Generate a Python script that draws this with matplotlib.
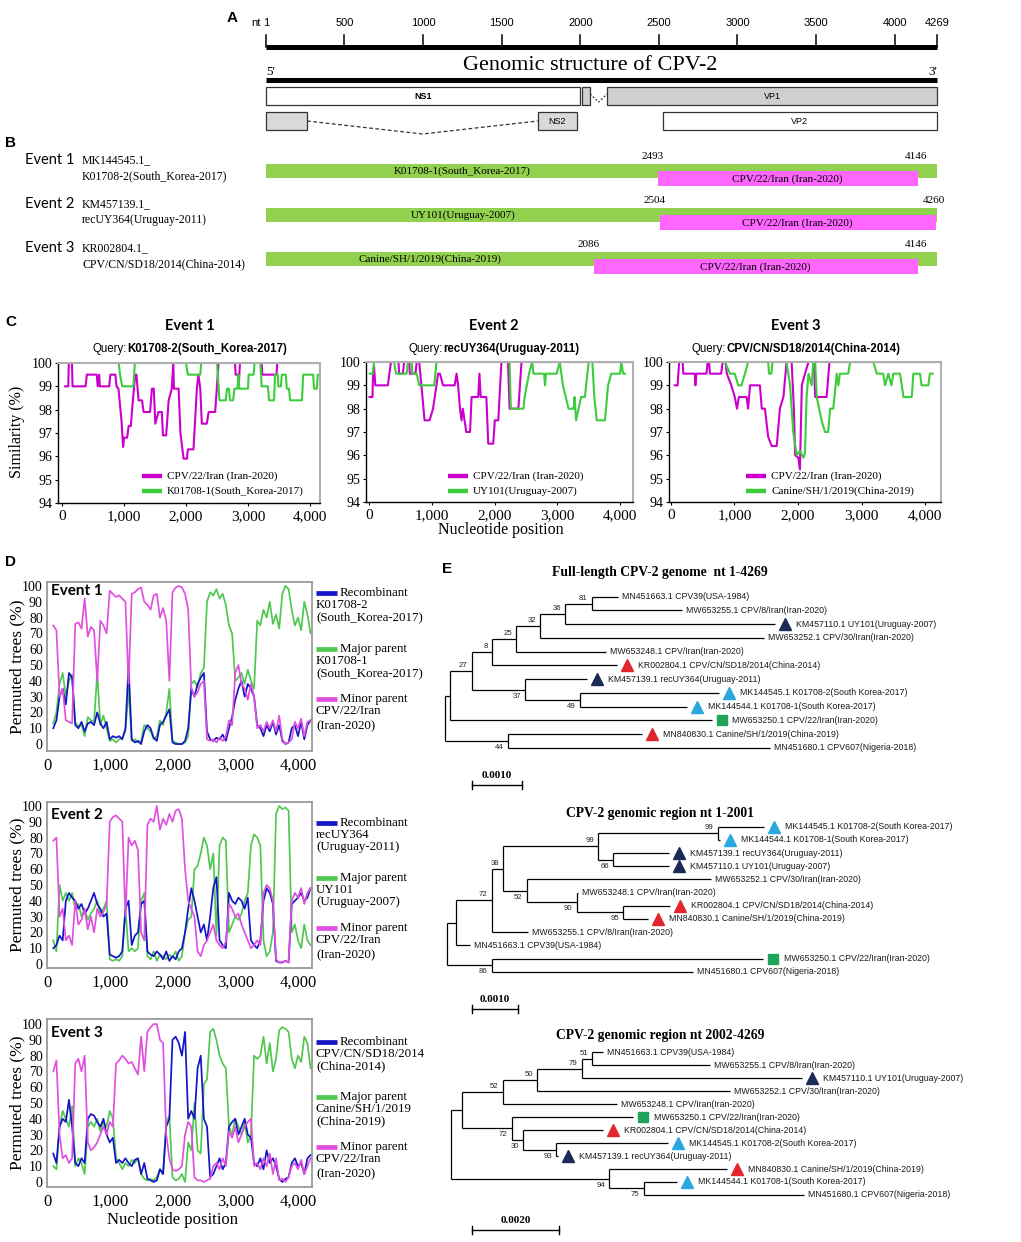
import numpy as np
import matplotlib
matplotlib.use('Agg')
import matplotlib.pyplot as plt
from matplotlib.patches import Rectangle
from matplotlib.lines import Line2D
from matplotlib.ticker import FuncFormatter
from matplotlib import transforms

# ------------------------------------------------------------------ DATA
GENOME_LEN = 4269
RULER_TICKS = [1, 500, 1000, 1500, 2000, 2500, 3000, 3500, 4000, 4269]
RULER_LABELS = ['1', '500', '1000', '1500', '2000', '2500', '3000', '3500', '4000', '4269']

ROW1_NAMES = ['NS1', '', 'VP1']
ROW1_START = [1, 2012, 2170]
ROW1_END = [2001, 2063, 4269]
ROW1_FILL = ['white', '#cfcfcf', '#cfcfcf']
ROW2_NAMES = ['', 'NS2', 'VP2']
ROW2_START = [1, 1730, 2525]
ROW2_END = [262, 1980, 4269]
ROW2_FILL = ['#d9d9d9', '#d9d9d9', 'white']

EVENTS = ['Event 1', 'Event 2', 'Event 3']
EVENT_ACC = ['MK144545.1_', 'KM457139.1_', 'KR002804.1_']
EVENT_REC = ['K01708-2(South_Korea-2017)', 'recUY364(Uruguay-2011)', 'CPV/CN/SD18/2014(China-2014)']
EVENT_MAJOR = ['K01708-1(South_Korea-2017)', 'UY101(Uruguay-2007)', 'Canine/SH/1/2019(China-2019)']
EVENT_MAJOR_D = ['K01708-1', 'UY101', 'Canine/SH/1/2019']
EVENT_MAJOR_D2 = ['(South_Korea-2017)', '(Uruguay-2007)', '(China-2019)']
EVENT_REC_D = ['K01708-2', 'recUY364', 'CPV/CN/SD18/2014']
EVENT_REC_D2 = ['(South_Korea-2017)', '(Uruguay-2011)', '(China-2014)']
MINOR_NAME = 'CPV/22/Iran (Iran-2020)'
BP_START = [2493, 2504, 2086]
BP_END = [4146, 4260, 4146]

# Panel C similarity (position, %)
C1_MINOR = [(50, 99.0), (100, 99.0), (110, 100), (160, 100), (170, 99.0), (380, 99.0), (400, 99.5), (560, 99.5),
            (575, 99.0), (600, 99.5), (610, 99.0), (760, 99.0), (780, 99.5), (860, 99.5), (880, 99.0), (910, 98.9),
            (960, 97.5), (985, 96.4), (1000, 96.8), (1050, 96.8), (1075, 97.3), (1110, 97.3), (1130, 98.0),
            (1180, 99.5), (1200, 99.5), (1235, 98.4), (1290, 98.4), (1316, 97.9), (1420, 97.9), (1450, 98.9),
            (1480, 98.9), (1505, 97.4), (1555, 97.9), (1610, 97.9), (1628, 96.9), (1680, 96.9), (1720, 98.4),
            (1770, 98.9), (1795, 100), (1805, 98.9), (1880, 98.9), (1910, 97.0), (1960, 95.9), (2015, 95.9),
            (2030, 96.3), (2120, 96.3), (2175, 98.9), (2200, 99.5), (2230, 98.9), (2255, 97.4), (2335, 97.4),
            (2365, 97.9), (2470, 97.9), (2525, 100), (2790, 100), (2800, 99.5), (2840, 99.5), (2850, 99.0),
            (2870, 100), (3220, 100), (3230, 99.5), (3460, 99.5), (3470, 100), (4150, 100)]
C1_MAJOR = [(900, 100), (915, 100), (935, 99.5), (970, 99.0), (1150, 99.0), (1175, 100), (2000, 100), (2030, 99.5),
            (2230, 99.5), (2245, 100), (2500, 100), (2540, 98.4), (2640, 98.4), (2660, 98.9), (2690, 98.9),
            (2710, 98.4), (2760, 98.4), (2780, 98.9), (2830, 98.9), (2845, 99.5), (2860, 98.9), (3000, 98.9),
            (3010, 99.5), (3090, 99.5), (3105, 100), (3200, 100), (3220, 99.0), (3320, 99.0), (3340, 98.4),
            (3420, 98.4), (3435, 99.5), (3480, 99.5), (3490, 99.0), (3530, 99.0), (3545, 99.5), (3610, 99.5),
            (3625, 98.9), (3660, 98.9), (3680, 98.4), (3870, 98.4), (3890, 99.5), (4050, 99.5), (4065, 98.9),
            (4110, 98.9), (4125, 99.5), (4150, 99.5)]
C2_MINOR = [(10, 98.5), (55, 98.5), (65, 99.5), (80, 99.8), (100, 99.0), (300, 99.0), (320, 99.4), (350, 100),
            (470, 100), (480, 99.5), (540, 99.5), (560, 100), (640, 100), (650, 99.5), (740, 99.5), (760, 100),
            (800, 100), (835, 99.0), (885, 97.5), (965, 97.5), (1020, 98.0), (1075, 99.0), (1100, 99.5),
            (1130, 99.5), (1180, 99.0), (1365, 99.0), (1395, 99.5), (1420, 99.0), (1450, 98.0), (1475, 97.5),
            (1495, 98.0), (1550, 97.0), (1610, 97.0), (1635, 98.5), (1740, 98.5), (1760, 99.5), (1780, 98.5),
            (1870, 98.5), (1900, 96.5), (1980, 96.5), (2005, 97.5), (2060, 97.5), (2110, 100), (2215, 100),
            (2240, 98.0), (2380, 98.0), (2430, 100), (4200, 100)]
C2_MAJOR = [(10, 99.5), (60, 99.5), (80, 100), (400, 100), (430, 99.5), (600, 99.5), (620, 100), (680, 100),
            (690, 99.5), (760, 99.5), (800, 99.0), (1040, 99.0), (1075, 100), (2240, 100), (2260, 98.0),
            (2460, 98.0), (2480, 98.5), (2550, 99.5), (2600, 100), (2620, 99.5), (2790, 99.5), (2805, 99.0),
            (2820, 99.5), (2990, 99.5), (3040, 100), (3090, 99.0), (3180, 98.0), (3260, 98.0), (3275, 98.5),
            (3300, 97.5), (3340, 98.0), (3380, 98.5), (3440, 98.5), (3500, 100), (3560, 100), (3590, 98.5),
            (3630, 97.5), (3760, 97.5), (3810, 99.0), (3860, 99.5), (4000, 99.5), (4020, 100), (4050, 99.5),
            (4080, 99.5)]
C3_MINOR = [(60, 99.0), (105, 99.0), (130, 100), (185, 100), (195, 99.5), (375, 99.5), (385, 99.0), (400, 99.5),
            (560, 99.5), (578, 100), (600, 100), (615, 99.5), (790, 99.5), (815, 100), (860, 100), (880, 99.5),
            (950, 99.0), (1005, 98.5), (1040, 98.0), (1070, 98.5), (1190, 98.5), (1215, 98.0), (1245, 99.0),
            (1400, 99.0), (1430, 98.0), (1480, 98.0), (1530, 96.8), (1585, 96.4), (1665, 96.4), (1715, 98.0),
            (1770, 98.5), (1820, 100), (1900, 100), (1935, 98.0), (1955, 96.0), (2005, 95.9), (2030, 95.4),
            (2060, 99.0), (2110, 99.5), (2165, 100), (2250, 100), (2270, 98.5), (2450, 98.5), (2495, 100),
            (4200, 100)]
C3_MAJOR = [(850, 100), (930, 99.5), (1005, 99.5), (1060, 99.0), (1110, 99.0), (1165, 99.5), (1215, 100),
            (1530, 100), (1545, 99.5), (1580, 99.5), (1600, 100), (1820, 100), (1875, 99.0), (1900, 98.0),
            (1925, 97.0), (1980, 96.0), (2030, 96.2), (2085, 95.9), (2110, 96.1), (2135, 98.5), (2165, 99.5),
            (2215, 99.0), (2240, 100), (2270, 100), (2295, 98.5), (2370, 97.5), (2425, 97.0), (2475, 97.0),
            (2505, 98.0), (2555, 98.0), (2610, 99.5), (2635, 99.0), (2660, 99.5), (2790, 99.5), (2820, 100),
            (3185, 100), (3240, 99.5), (3340, 99.5), (3370, 99.0), (3420, 99.5), (3470, 99.0), (3500, 99.5),
            (3605, 99.5), (3660, 98.5), (3790, 98.5), (3815, 99.5), (3920, 99.5), (3945, 99.0), (4050, 99.0),
            (4075, 99.5), (4120, 99.5)]

# Panel D permuted trees (%), sampled every 50 nt from 100 to 4200
D_POS = list(range(100, 4201, 50))
D1_REC = [10, 15, 30, 35, 25, 45, 42, 12, 10, 14, 8, 13, 14, 12, 20, 13, 10, 14, 3, 5, 4, 5, 3, 10, 50, 3, 1, 2, 0, 8,
          12, 10, 4, 2, 12, 14, 18, 22, 1, 0, 0, 0, 2, 10, 35, 30, 38, 42, 45, 8, 3, 2, 4, 3, 6, 2, 10, 17, 28, 35,
          40, 30, 38, 35, 30, 12, 10, 5, 12, 8, 14, 6, 12, 2, 0, 1, 10, 12, 5, 14, 3, 12, 15]
D1_MAJ = [13, 20, 38, 45, 30, 40, 44, 14, 11, 12, 5, 17, 15, 14, 45, 12, 18, 10, 2, 3, 1, 3, 4, 8, 35, 2, 3, 1, 2, 12,
          10, 8, 3, 5, 15, 12, 20, 35, 2, 1, 0, 0, 1, 5, 38, 40, 36, 45, 48, 90, 96, 94, 98, 92, 95, 88, 75, 70, 40,
          42, 45, 38, 47, 40, 35, 78, 75, 85, 80, 90, 76, 82, 73, 95, 100, 98, 85, 75, 80, 72, 90, 82, 70]
D1_MIN = [75, 72, 30, 35, 15, 14, 13, 76, 77, 73, 92, 68, 74, 72, 40, 78, 75, 70, 97, 95, 93, 94, 92, 90, 38, 95, 96,
          98, 99, 90, 88, 85, 94, 95, 80, 86, 78, 40, 96, 99, 100, 99, 95, 85, 35, 30, 33, 38, 40, 3, 2, 3, 1, 4, 2,
          5, 15, 12, 45, 50, 38, 35, 28, 38, 30, 10, 12, 8, 14, 10, 15, 8, 18, 3, 0, 1, 3, 14, 10, 16, 5, 14, 15]
D2_REC = [10, 12, 18, 15, 40, 45, 42, 40, 35, 38, 32, 35, 40, 45, 38, 35, 30, 32, 6, 5, 4, 5, 8, 35, 40, 12, 18, 20,
          38, 40, 8, 6, 5, 8, 6, 3, 8, 2, 5, 3, 8, 10, 20, 35, 48, 40, 30, 20, 25, 15, 30, 48, 55, 15, 12, 10, 45,
          40, 38, 42, 40, 35, 42, 15, 12, 10, 15, 40, 48, 45, 38, 2, 1, 1, 2, 1, 38, 40, 42, 45, 40, 42, 48]
D2_MAJ = [15, 8, 50, 40, 45, 40, 45, 35, 38, 30, 35, 28, 32, 35, 40, 32, 35, 40, 3, 2, 3, 2, 5, 35, 8, 10, 8, 10, 40,
          45, 5, 3, 8, 2, 6, 5, 3, 6, 4, 8, 2, 5, 20, 28, 30, 60, 62, 70, 80, 75, 60, 70, 18, 75, 80, 78, 20, 25,
          30, 28, 32, 40, 45, 75, 82, 80, 75, 15, 5, 8, 20, 95, 100, 98, 99, 97, 20, 25, 15, 10, 25, 15, 12]
D2_MIN = [78, 80, 30, 35, 15, 18, 12, 40, 25, 28, 35, 22, 30, 20, 35, 30, 33, 38, 90, 93, 94, 92, 90, 30, 80, 75, 78,
          72, 20, 15, 88, 92, 90, 100, 85, 92, 88, 95, 90, 97, 98, 92, 60, 40, 35, 30, 8, 5, 12, 15, 20, 25, 15, 12,
          10, 14, 38, 35, 30, 32, 25, 20, 15, 10, 12, 15, 12, 45, 50, 48, 40, 3, 1, 1, 2, 1, 40, 45, 42, 48, 38, 45, 48]
D3_REC = [18, 12, 35, 40, 38, 52, 35, 12, 10, 15, 12, 40, 43, 42, 38, 35, 40, 30, 25, 28, 12, 14, 12, 15, 12, 10, 14,
          15, 5, 12, 2, 1, 0, 1, 8, 5, 35, 40, 90, 92, 88, 80, 95, 40, 45, 40, 72, 80, 40, 35, 3, 5, 10, 15, 8, 12,
          35, 38, 40, 30, 35, 40, 30, 28, 12, 10, 15, 8, 20, 12, 15, 10, 2, 0, 2, 3, 12, 15, 10, 12, 5, 15, 17]
D3_MAJ = [10, 8, 35, 45, 40, 35, 48, 10, 15, 12, 5, 35, 38, 35, 40, 32, 38, 35, 45, 40, 15, 12, 8, 12, 10, 14, 12, 15,
          5, 2, 1, 2, 1, 3, 8, 5, 38, 42, 3, 1, 2, 5, 0, 25, 20, 50, 20, 18, 62, 65, 95, 97, 90, 80, 75, 72, 35, 30,
          40, 35, 30, 38, 25, 30, 80, 78, 80, 92, 75, 88, 70, 78, 96, 98, 97, 95, 78, 72, 80, 76, 92, 88, 72]
D3_MIN = [70, 77, 30, 15, 17, 12, 15, 75, 78, 70, 80, 25, 20, 22, 25, 30, 35, 30, 38, 35, 75, 77, 80, 78, 75, 76, 72,
          68, 92, 70, 95, 98, 100, 100, 90, 88, 30, 15, 8, 7, 8, 10, 30, 38, 35, 3, 1, 1, 0, 1, 2, 10, 12, 8, 15, 10,
          32, 28, 35, 25, 30, 35, 38, 40, 10, 12, 8, 15, 10, 18, 5, 15, 1, 2, 0, 3, 10, 12, 8, 14, 5, 10, 15]


# Phylogenetic trees: leaf = (name, branch length); node = (branch length, bootstrap, children)
def L(name, bl):
    return {'name': name, 'bl': bl}


def N(bl, boot, *kids):
    return {'bl': bl, 'boot': boot, 'kids': list(kids)}


S_CPV39 = 'MN451663.1 CPV39(USA-1984)'
S_CPV8 = 'MW653255.1 CPV/8/Iran(Iran-2020)'
S_UY101 = 'KM457110.1 UY101(Uruguay-2007)'
S_CPV30 = 'MW653252.1 CPV/30/Iran(Iran-2020)'
S_CPVIR = 'MW653248.1 CPV/Iran(Iran-2020)'
S_KR0028 = 'KR002804.1 CPV/CN/SD18/2014(China-2014)'
S_REC364 = 'KM457139.1 recUY364(Uruguay-2011)'
S_K2 = 'MK144545.1 K01708-2(South Korea-2017)'
S_K1 = 'MK144544.1 K01708-1(South Korea-2017)'
S_CPV22 = 'MW653250.1 CPV/22/Iran(Iran-2020)'
S_CANINE = 'MN840830.1 Canine/SH/1/2019(China-2019)'
S_CPV607 = 'MN451680.1 CPV607(Nigeria-2018)'

TREE_FULL = N(0, None,
              N(0.0001, None,
                N(0.00043, 27,
                  N(0.0004, 8,
                    N(0.00049, 25,
                      N(0.00048, 32,
                        N(0.0005, 36,
                          N(0.00053, 81, L(S_CPV39, 0.00053), L(S_CPV8, 0.0018)),
                          L(S_UY101, 0.0042)),
                        L(S_CPV30, 0.00447)),
                      L(S_CPVIR, 0.0018)),
                    L(S_KR0028, 0.0025)),
                  N(0.00107, 37,
                    L(S_REC364, 0.00123),
                    N(0.0011, 49, L(S_K2, 0.00277), L(S_K1, 0.00213)))),
                L(S_CPV22, 0.00523)),
              N(0.00125, 44, L(S_CANINE, 0.00269), L(S_CPV607, 0.00525)))

TREE_NS = N(0, None,
            N(0.0002, None,
              N(0.00076, 72,
                N(0.00025, 38,
                  N(0.00204, 99,
                    N(0.00255, 99, L(S_K2, 0.00099), L(S_K1, 0.00006)),
                    N(0.00032, 66, L(S_REC364, 0.00118), L(S_UY101, 0.00118))),
                  N(0.0005, 52,
                    L(S_CPV30, 0.00396),
                    N(0.00107, 90,
                      L(S_CPVIR, 0.00004),
                      N(0.001, 95, L(S_KR0028, 0.001), L(S_CANINE, 0.00054))))),
                L(S_CPV8, 0.00079)),
              L(S_CPV39, 0.0003)),
            N(0.00096, 86, L(S_CPV22, 0.00582), L(S_CPV607, 0.00432)))

TREE_VP = N(0, None,
            N(0.00025, None,
              N(0.00094, 52,
                N(0.00079, 50,
                  N(0.00101, 79,
                    N(0.00024, 51, L(S_CPV39, 0.00025), L(S_CPV8, 0.00268)),
                    L(S_UY101, 0.00502)),
                  L(S_CPV30, 0.00439)),
                L(S_CPVIR, 0.0026)),
              N(0.00114, 72,
                L(S_CPV22, 0.00277),
                N(0.00027, 30,
                  L(S_KR0028, 0.00182),
                  N(0.00074, 93, L(S_K2, 0.00256), L(S_REC364, 0.00005))))),
            N(0.00362, 94,
              L(S_CANINE, 0.00268),
              N(0.00078, 75, L(S_K1, 0.00076), L(S_CPV607, 0.00365))))

TREE_TITLES = ['Full-length CPV-2 genome  nt 1-4269', 'CPV-2 genomic region nt 1-2001',
               'CPV-2 genomic region nt 2002-4269']
SCALE_LEN = [0.001, 0.001, 0.002]
SCALE_TXT = ['0.0010', '0.0010', '0.0020']
LEAF_GROUP = {'KM457110.1': 'uy', 'KM457139.1': 'uy', 'KR002804.1': 'cn', 'MN840830.1': 'cn',
              'MK144545.1': 'kr', 'MK144544.1': 'kr', 'MW653250.1': 'ir'}

# ------------------------------------------------------------------ STYLE / LAYOUT
W, H = 1021, 1242
SERIF = ['Liberation Serif', 'DejaVu Serif']
SANS = ['Liberation Sans', 'DejaVu Sans']
CAL = ['Lato', 'Liberation Sans', 'DejaVu Sans']
plt.rcParams['font.family'] = SERIF
GREEN_BAR = '#92d050'
PINK_BAR = '#ff66ff'
C_MAG = '#cc00cc'
C_GRN = '#3ccc3c'
D_BLUE = '#1414c8'
D_GRN = '#50c850'
D_MAG = '#e050e0'
GROUP_STYLE = {'uy': ('^', '#1b2a57', 8.5), 'cn': ('^', '#e3262b', 8.5),
               'kr': ('^', '#2aa7df', 8.5), 'ir': ('s', '#1fa55a', 6.5)}

fig = plt.figure(figsize=(W / 100, H / 100), dpi=100)
fig.patch.set_facecolor('white')


def pax(x0, y0, w, h):
    return fig.add_axes([x0 / W, 1 - (y0 + h) / H, w / W, h / H])


def ftext(x, y, s, **kw):
    kw.setdefault('va', 'center')
    return fig.text(x / W, 1 - y / H, s, **kw)


def fline(x0, x1, y, color, lw):
    fig.add_artist(Line2D([x0 / W, x1 / W], [1 - y / H, 1 - y / H], color=color, lw=lw,
                          solid_capstyle='butt', transform=fig.transFigure))


# panel letters
for lt, (lx, ly) in zip('ABCDE', [(232, 18), (10, 143), (11, 322), (10, 562), (447, 569)]):
    ftext(lx, ly, lt, ha='center', fontsize=11, fontweight='bold', family=SANS)

# ------------------------------------------------------------------ PANEL A & B
axg = pax(0, 0, W, 300)
axg.axis('off')
ppn = (937 - 266) / (GENOME_LEN - 1)
axg.set_xlim(1 - 266 / ppn, 1 + (W - 266) / ppn)
axg.set_ylim(300, 0)

axg.plot([1, GENOME_LEN], [47, 47], color='black', lw=3.6, solid_capstyle='butt')
for t, lab in zip(RULER_TICKS, RULER_LABELS):
    axg.plot([t, t], [35, 47], color='black', lw=1.1)
    axg.text(t, 23, lab, ha='center', va='center', fontsize=8, family=SANS)
axg.annotate('nt', (RULER_TICKS[0], 23), xytext=(-5, 0), textcoords='offset pixels',
             ha='right', va='center', fontsize=8, family=SANS)
axg.text(2065, 65, 'Genomic structure of CPV-2', ha='center', va='center', fontsize=16, family=SERIF)
axg.text(1, 72, "5'", ha='left', va='center', fontsize=9.5)
axg.text(GENOME_LEN, 72, "3'", ha='right', va='center', fontsize=9.5)
axg.plot([1, GENOME_LEN], [80, 80], color='black', lw=3.6, solid_capstyle='butt')

for names, st, en, fills, top in [(ROW1_NAMES, ROW1_START, ROW1_END, ROW1_FILL, 87),
                                   (ROW2_NAMES, ROW2_START, ROW2_END, ROW2_FILL, 112)]:
    for nm, s, e, fc in zip(names, st, en, fills):
        axg.add_patch(Rectangle((s, top), e - s, 18, facecolor=fc, edgecolor='#333333', lw=0.9))
        if nm:
            axg.text((s + e) / 2, top + 9.5, nm, ha='center', va='center', fontsize=6.5, family=SANS,
                     fontweight='bold' if nm == 'NS1' else 'normal')
# splice connectors
axg.plot([ROW1_END[1], (ROW1_END[1] + ROW1_START[2]) / 2, ROW1_START[2]], [94, 102, 94],
         color='#333333', lw=0.9, ls=(0, (1.5, 1.5)))
axg.plot([ROW2_END[0], (ROW2_END[0] + ROW2_START[1]) / 2, ROW2_START[1]], [121, 134, 121],
         color='#333333', lw=0.9, ls=(0, (3, 2)))

# panel B
for i in range(3):
    gy = 164 + 44 * i
    ftext(25, 160 + 44 * i, EVENTS[i], ha='left', fontsize=10.5, family=CAL)
    ftext(82, 160 + 44 * i, EVENT_ACC[i], ha='left', fontsize=8.5)
    ftext(82, 176 + 44 * i, EVENT_REC[i], ha='left', fontsize=8.5)
    axg.add_patch(Rectangle((1, gy), GENOME_LEN - 1, 14, facecolor=GREEN_BAR, edgecolor='none'))
    axg.add_patch(Rectangle((BP_START[i], gy + 7), BP_END[i] - BP_START[i], 15,
                            facecolor=PINK_BAR, edgecolor='none'))
    axg.text((1 + BP_START[i]) / 2, gy + 7.5, EVENT_MAJOR[i], ha='center', va='center', fontsize=8)
    axg.text((BP_START[i] + BP_END[i]) / 2, gy + 15, MINOR_NAME, ha='center', va='center', fontsize=8)
    axg.text(BP_START[i] - 30, gy - 3, str(BP_START[i]), ha='center', va='bottom', fontsize=8)
    axg.text(BP_END[i] - 10, gy - 3, str(BP_END[i]), ha='center', va='bottom', fontsize=8)

# ------------------------------------------------------------------ PANEL C
renderer = fig.canvas.get_renderer()


def two_part(xc, y, a, b, size):
    t1 = ftext(0, y, a, ha='left', fontsize=size, family=SANS)
    t2 = ftext(0, y, b, ha='left', fontsize=size, family=SANS, fontweight='bold')
    w1 = t1.get_window_extent(renderer).width
    w2 = t2.get_window_extent(renderer).width
    x0 = xc - (w1 + w2) / 2
    t1.set_x(x0 / W)
    t2.set_x((x0 + w1) / W)


comma = FuncFormatter(lambda v, p: f'{int(v):,}')
C_BOXES = [(58, 363, 262, 140), (366, 362, 267, 140), (669, 362, 272, 140)]
C_XLIMS = [(-65, 4161), (-48, 4207), (-30, 4250)]
C_CENTERS = [190, 494, 796]
C_LEGX = [142, 448, 746]
C_DATA = [(C1_MINOR, C1_MAJOR), (C2_MINOR, C2_MAJOR), (C3_MINOR, C3_MAJOR)]
for i in range(3):
    ax = pax(*C_BOXES[i])
    mn = np.array(C_DATA[i][0]).T
    mj = np.array(C_DATA[i][1]).T
    ax.plot(mn[0], mn[1], color=C_MAG, lw=1.5, zorder=2)
    ax.plot(mj[0], mj[1], color=C_GRN, lw=1.5, zorder=2)
    ax.set_xlim(*C_XLIMS[i])
    ax.set_ylim(94, 100)
    ax.set_yticks([94, 95, 96, 97, 98, 99, 100])
    ax.set_xticks([0, 1000, 2000, 3000, 4000])
    ax.xaxis.set_major_formatter(comma)
    ax.tick_params(axis='y', labelsize=10, length=2, pad=2)
    ax.tick_params(axis='x', labelsize=11, length=2, pad=3)
    for sp in ['left', 'bottom']:
        ax.spines[sp].set_color('black')
        ax.spines[sp].set_linewidth(1.0)
    for sp in ['top', 'right']:
        ax.spines[sp].set_color('#b0b0b0')
        ax.spines[sp].set_linewidth(1.5)
    for sp in ax.spines.values():
        sp.set_zorder(3)
    ftext(C_CENTERS[i], 326, EVENTS[i], ha='center', fontsize=10.5, fontweight='bold', family=CAL)
    two_part(C_CENTERS[i], 349, 'Query:', EVENT_REC[i], 8.3)
    lx = C_LEGX[i]
    fline(lx, lx + 20, 476, C_MAG, 3.2)
    fline(lx, lx + 20, 491, C_GRN, 3.2)
    ftext(lx + 25, 476, MINOR_NAME, ha='left', fontsize=8)
    ftext(lx + 25, 491, EVENT_MAJOR[i], ha='left', fontsize=8)
ftext(17, 432, 'Similarity (%)', ha='center', rotation=90, fontsize=11.5)
ftext(501, 530, 'Nucleotide position', ha='center', fontsize=11.5)

# ------------------------------------------------------------------ PANEL D
D_BOXES = [(47, 582, 265, 169), (47, 802, 265, 166), (47, 1019, 265, 168)]
D_YLIMS = [(-4.4, 102.5), (-2.5, 102.5), (-3.2, 103.2)]
D_EVY = [591, 815, 1033]
D_LEGY = [(593, 649, 699), (823, 878, 928), (1042, 1097, 1147)]
D_DATA = [(D1_REC, D1_MAJ, D1_MIN), (D2_REC, D2_MAJ, D2_MIN), (D3_REC, D3_MAJ, D3_MIN)]
for i in range(3):
    ax = pax(*D_BOXES[i])
    rec, maj, mnr = D_DATA[i]
    ax.plot(D_POS, maj, color=D_GRN, lw=1.25)
    ax.plot(D_POS, rec, color=D_BLUE, lw=1.25)
    ax.plot(D_POS, mnr, color=D_MAG, lw=1.25)
    ax.set_xlim(0, 4223)
    ax.set_ylim(*D_YLIMS[i])
    ax.set_yticks(range(0, 101, 10))
    ax.set_xticks([0, 1000, 2000, 3000, 4000])
    ax.xaxis.set_major_formatter(comma)
    ax.tick_params(axis='y', labelsize=10, length=0, pad=3)
    ax.tick_params(axis='x', labelsize=12, length=0, pad=5)
    for sp in ax.spines.values():
        sp.set_color('#9a9a9a')
        sp.set_linewidth(1.3)
    ftext(51, D_EVY[i], EVENTS[i], ha='left', fontsize=11, fontweight='bold', family=CAL)
    yb, yg, ym = D_LEGY[i]
    fline(316, 337, yb, D_BLUE, 3.4)
    ftext(340, yb, 'Recombinant', ha='left', fontsize=9.3)
    ftext(316, yb + 12, EVENT_REC_D[i], ha='left', fontsize=9.3)
    ftext(316, yb + 24, EVENT_REC_D2[i], ha='left', fontsize=9.3)
    fline(316, 337, yg, D_GRN, 3.4)
    ftext(340, yg, 'Major parent', ha='left', fontsize=9.3)
    ftext(316, yg + 12, EVENT_MAJOR_D[i], ha='left', fontsize=9.3)
    ftext(316, yg + 24, EVENT_MAJOR_D2[i], ha='left', fontsize=9.3)
    fline(316, 337, ym, D_MAG, 3.4)
    ftext(340, ym, 'Minor parent', ha='left', fontsize=9.3)
    ftext(316, ym + 12, 'CPV/22/Iran', ha='left', fontsize=9.3)
    ftext(316, ym + 27, '(Iran-2020)', ha='left', fontsize=9.3)
    cy = D_BOXES[i][1] + D_BOXES[i][3] / 2
    ftext(17, cy, 'Permuted trees (%)', ha='center', rotation=90, fontsize=12.5)
ftext(172, 1220, 'Nucleotide position', ha='center', fontsize=12)


# ------------------------------------------------------------------ PANEL E
def layout(node, x0, counter):
    node['x'] = x0 + node['bl']
    if 'kids' in node:
        for k in node['kids']:
            layout(k, node['x'], counter)
        node['y'] = (node['kids'][0]['y'] + node['kids'][-1]['y']) / 2
    else:
        node['y'] = counter[0]
        counter[0] += 1


def draw_tree(ax, node, mark_tr):
    ax.plot([node['x'], node['x']], [node['kids'][0]['y'], node['kids'][-1]['y']],
            color='black', lw=0.9, solid_capstyle='butt')
    for j, k in enumerate(node['kids']):
        ax.plot([node['x'], k['x']], [k['y'], k['y']], color='black', lw=0.9, solid_capstyle='butt')
        if 'kids' in k:
            if k['boot'] is not None:
                up = (j == 0)
                ax.annotate(str(k['boot']), (k['x'], k['y']), xytext=(-4, 2 if up else -3),
                            textcoords='offset pixels', ha='right', va='bottom' if up else 'top',
                            fontsize=5.6, family=SANS, color='#222222')
            draw_tree(ax, k, mark_tr)
        else:
            grp = LEAF_GROUP.get(k['name'].split(' ')[0])
            off = 4
            if grp is not None:
                mk, col, ms = GROUP_STYLE[grp]
                ax.plot([k['x']], [k['y']], marker=mk, color=col, ms=ms, ls='none',
                        transform=mark_tr, clip_on=False)
                off = 21
            ax.annotate(k['name'], (k['x'], k['y']), xytext=(off, 0), textcoords='offset pixels',
                        ha='left', va='center', fontsize=6.3, family=SANS, color='#1a1a1a')


TREES = [TREE_FULL, TREE_NS, TREE_VP]
T_BOX_TOP = [580, 815, 1040]
T_BOX_H = [215, 200, 200]
T_ROOT_PX = [445, 446.7, 450.7]
T_PPU = [50000, 46700, 43830]
T_LEAF0 = [596.7, 826.7, 1052.3]
T_STEP = [13.75, 13.18, 12.97]
T_TITLE_Y = [572, 814, 1035]
T_BAR_Y = [785, 1009, 1230]
for i, tree in enumerate(TREES):
    layout(tree, 0.0, [0])
    top, h = T_BOX_TOP[i], T_BOX_H[i]
    ax = pax(440, top, 580, h)
    ax.axis('off')
    ax.set_xlim((440 - T_ROOT_PX[i]) / T_PPU[i], (1020 - T_ROOT_PX[i]) / T_PPU[i])
    ax.set_ylim((top + h - T_LEAF0[i]) / T_STEP[i], (top - T_LEAF0[i]) / T_STEP[i])
    mark_tr = transforms.offset_copy(ax.transData, fig=fig, x=10, y=0, units='dots')
    draw_tree(ax, tree, mark_tr)
    # scale bar
    sx = (471.7 - T_ROOT_PX[i]) / T_PPU[i]
    sy = (T_BAR_Y[i] - T_LEAF0[i]) / T_STEP[i]
    tk = 4 / T_STEP[i]
    ax.plot([sx, sx + SCALE_LEN[i]], [sy, sy], color='black', lw=1.0)
    ax.plot([sx, sx], [sy - tk, sy + tk], color='black', lw=1.0)
    ax.plot([sx + SCALE_LEN[i]] * 2, [sy - tk, sy + tk], color='black', lw=1.0)
    ax.annotate(SCALE_TXT[i], (sx + SCALE_LEN[i] / 2, sy), xytext=(0, 5), textcoords='offset pixels',
                ha='center', va='bottom', fontsize=8, fontweight='bold')
    ftext(660, T_TITLE_Y[i], TREE_TITLES[i], ha='center', fontsize=9.8, fontweight='bold')

fig.savefig('out.png', dpi=100, facecolor='white')
